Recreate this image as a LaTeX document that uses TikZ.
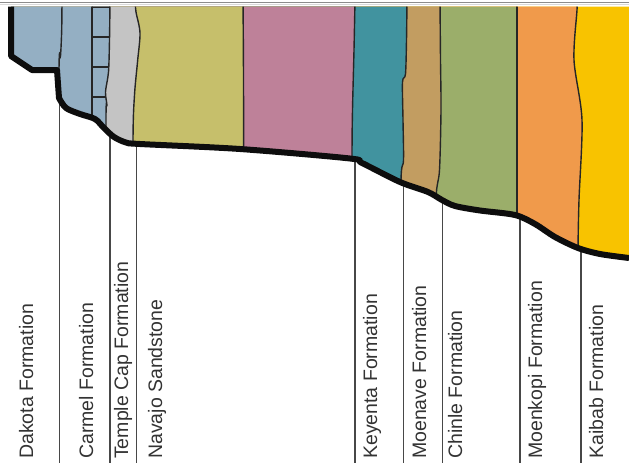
\documentclass[tikz,border=0pt]{standalone}
\usepackage{fontspec}
\setmainfont{Liberation Sans}
\definecolor{dakotablue}{HTML}{94AFC3}
\definecolor{templegray}{HTML}{C4C4C4}
\definecolor{navajoolive}{HTML}{C6BF6B}
\definecolor{unitpink}{HTML}{BE8199}
\definecolor{kayentateal}{HTML}{41939F}
\definecolor{moenavetan}{HTML}{C29D61}
\definecolor{chinlegreen}{HTML}{9BAE6A}
\definecolor{moenkopiorange}{HTML}{F09A4B}
\definecolor{kaibabyellow}{HTML}{F8C300}
% erosion surface of the stepped cliff profile
\newcommand\cliffprofile{(11,6.5) -- (11,56) -- (32,70) -- (57,70) -- plot[smooth] coordinates {(59,98) (66,108) (80,114) (95,119) (104,128) (114,137) (126,142.5) (140,144) (240,149) (350,158.5) (362,163) (400,182) (428,192) (442,200) (455,206) (480,210.5) (515,215) (535,224) (555,237) (578,248) (600,254) (629,258)}}
% fill everything left of a contact, then ink the contact itself
\newcommand\stratum[2]{\fill[#1] (0,0) -- plot[smooth] coordinates {#2} -- (0,300) -- cycle;
  \draw[contact] plot[smooth] coordinates {#2};}
\begin{document}
\begin{tikzpicture}[x=1pt,y=-1pt,
  contact/.style={black!85, line width=1.4pt},
  surface/.style={black!95, line width=6pt, line join=round, line cap=butt},
  leader/.style={black!72, line width=1.5pt},
  unitlabel/.style={rotate=90, anchor=base west, inner sep=0pt, text=black!80,
    font=\fontsize{19.5}{20}\selectfont}]
\useasboundingbox (0,0) rectangle (629,463);

% frame rule along the top
\draw[black!45, line width=1pt] (0,2.5) -- (629,2.5);
\draw[black!15, line width=1pt] (0,4.5) -- (629,4.5);

% rock units, clipped to the ground above the profile
\begin{scope}
  \clip \cliffprofile -- (629,6.5) -- cycle;
  \fill[kaibabyellow] (0,0) rectangle (629,300);
  \stratum{moenkopiorange}{(577,0) (577,10) (574,60) (582,120) (579,200) (578,250) (578,300)}
  \stratum{chinlegreen}{(517,0) (517,100) (517,300)}
  \stratum{moenavetan}{(440,0) (440.5,60) (441,110) (439.5,170) (436,200) (436,300)}
  \stratum{kayentateal}{(407,0) (406.5,40) (405.5,74) (402.5,82) (403,120) (403.5,160) (401,180) (400,300)}
  \stratum{unitpink}{(355,0) (354,50) (352.5,110) (352,158) (352,300)}
  \stratum{navajoolive}{(243,0) (243.5,80) (244,300)}
  \stratum{templegray}{(135,0) (136,12) (140,33) (137.5,62) (134.5,95) (133,140) (133,300)}
  \stratum{dakotablue}{(110,0) (109.5,40) (108.5,72) (105.5,92) (107,106) (106,118) (106,300)}
  % Carmel bedding column and Dakota contact
  \draw[contact] (92,0) -- (92,300);
  \draw[contact] (92,7) -- (110,7);
  \draw[contact] (92,37) -- (109.5,37);
  \draw[contact] (92,67) -- (108.6,67);
  \draw[contact] (92,97) -- (105.6,97);
  \draw[contact] plot[smooth] coordinates {(62,0) (61.7,30) (60.6,55) (59,72) (59,300)};
\end{scope}

% leader lines from each unit to its label
\foreach \n/\x/\y in {carmel/59.5/98, templecap/110/134, navajo/136.5/144,
    kayenta/355/159, moenave/403.5/183, chinle/442.5/200, moenkopi/520/216,
    kaibab/581/249} {
  \coordinate (\n-top) at (\x,\y);
  \coordinate (\n-foot) at (\x,463);
  \draw[leader] (\n-top) -- (\n-foot);
}

% ground surface
\draw[surface] \cliffprofile;

% unit names
\node[unitlabel] (dakota-label)    at (33,459)  {Dakota Formation};
\node[unitlabel] (carmel-label)    at (93,459)  {Carmel Formation};
\node[unitlabel] (templecap-label) at (128,459) {Temple Cap Formation};
\node[unitlabel] (navajo-label)    at (162,459) {Navajo Sandstone};
\node[unitlabel] (kayenta-label)   at (377,459) {Keyenta Formation};
\node[unitlabel] (moenave-label)   at (426,459) {Moenave Formation};
\node[unitlabel] (chinle-label)    at (462,459) {Chinle Formation};
\node[unitlabel] (moenkopi-label)  at (542,459) {Moenkopi Formation};
\node[unitlabel] (kaibab-label)    at (603,459) {Kaibab Formation};
\end{tikzpicture}
\end{document}
